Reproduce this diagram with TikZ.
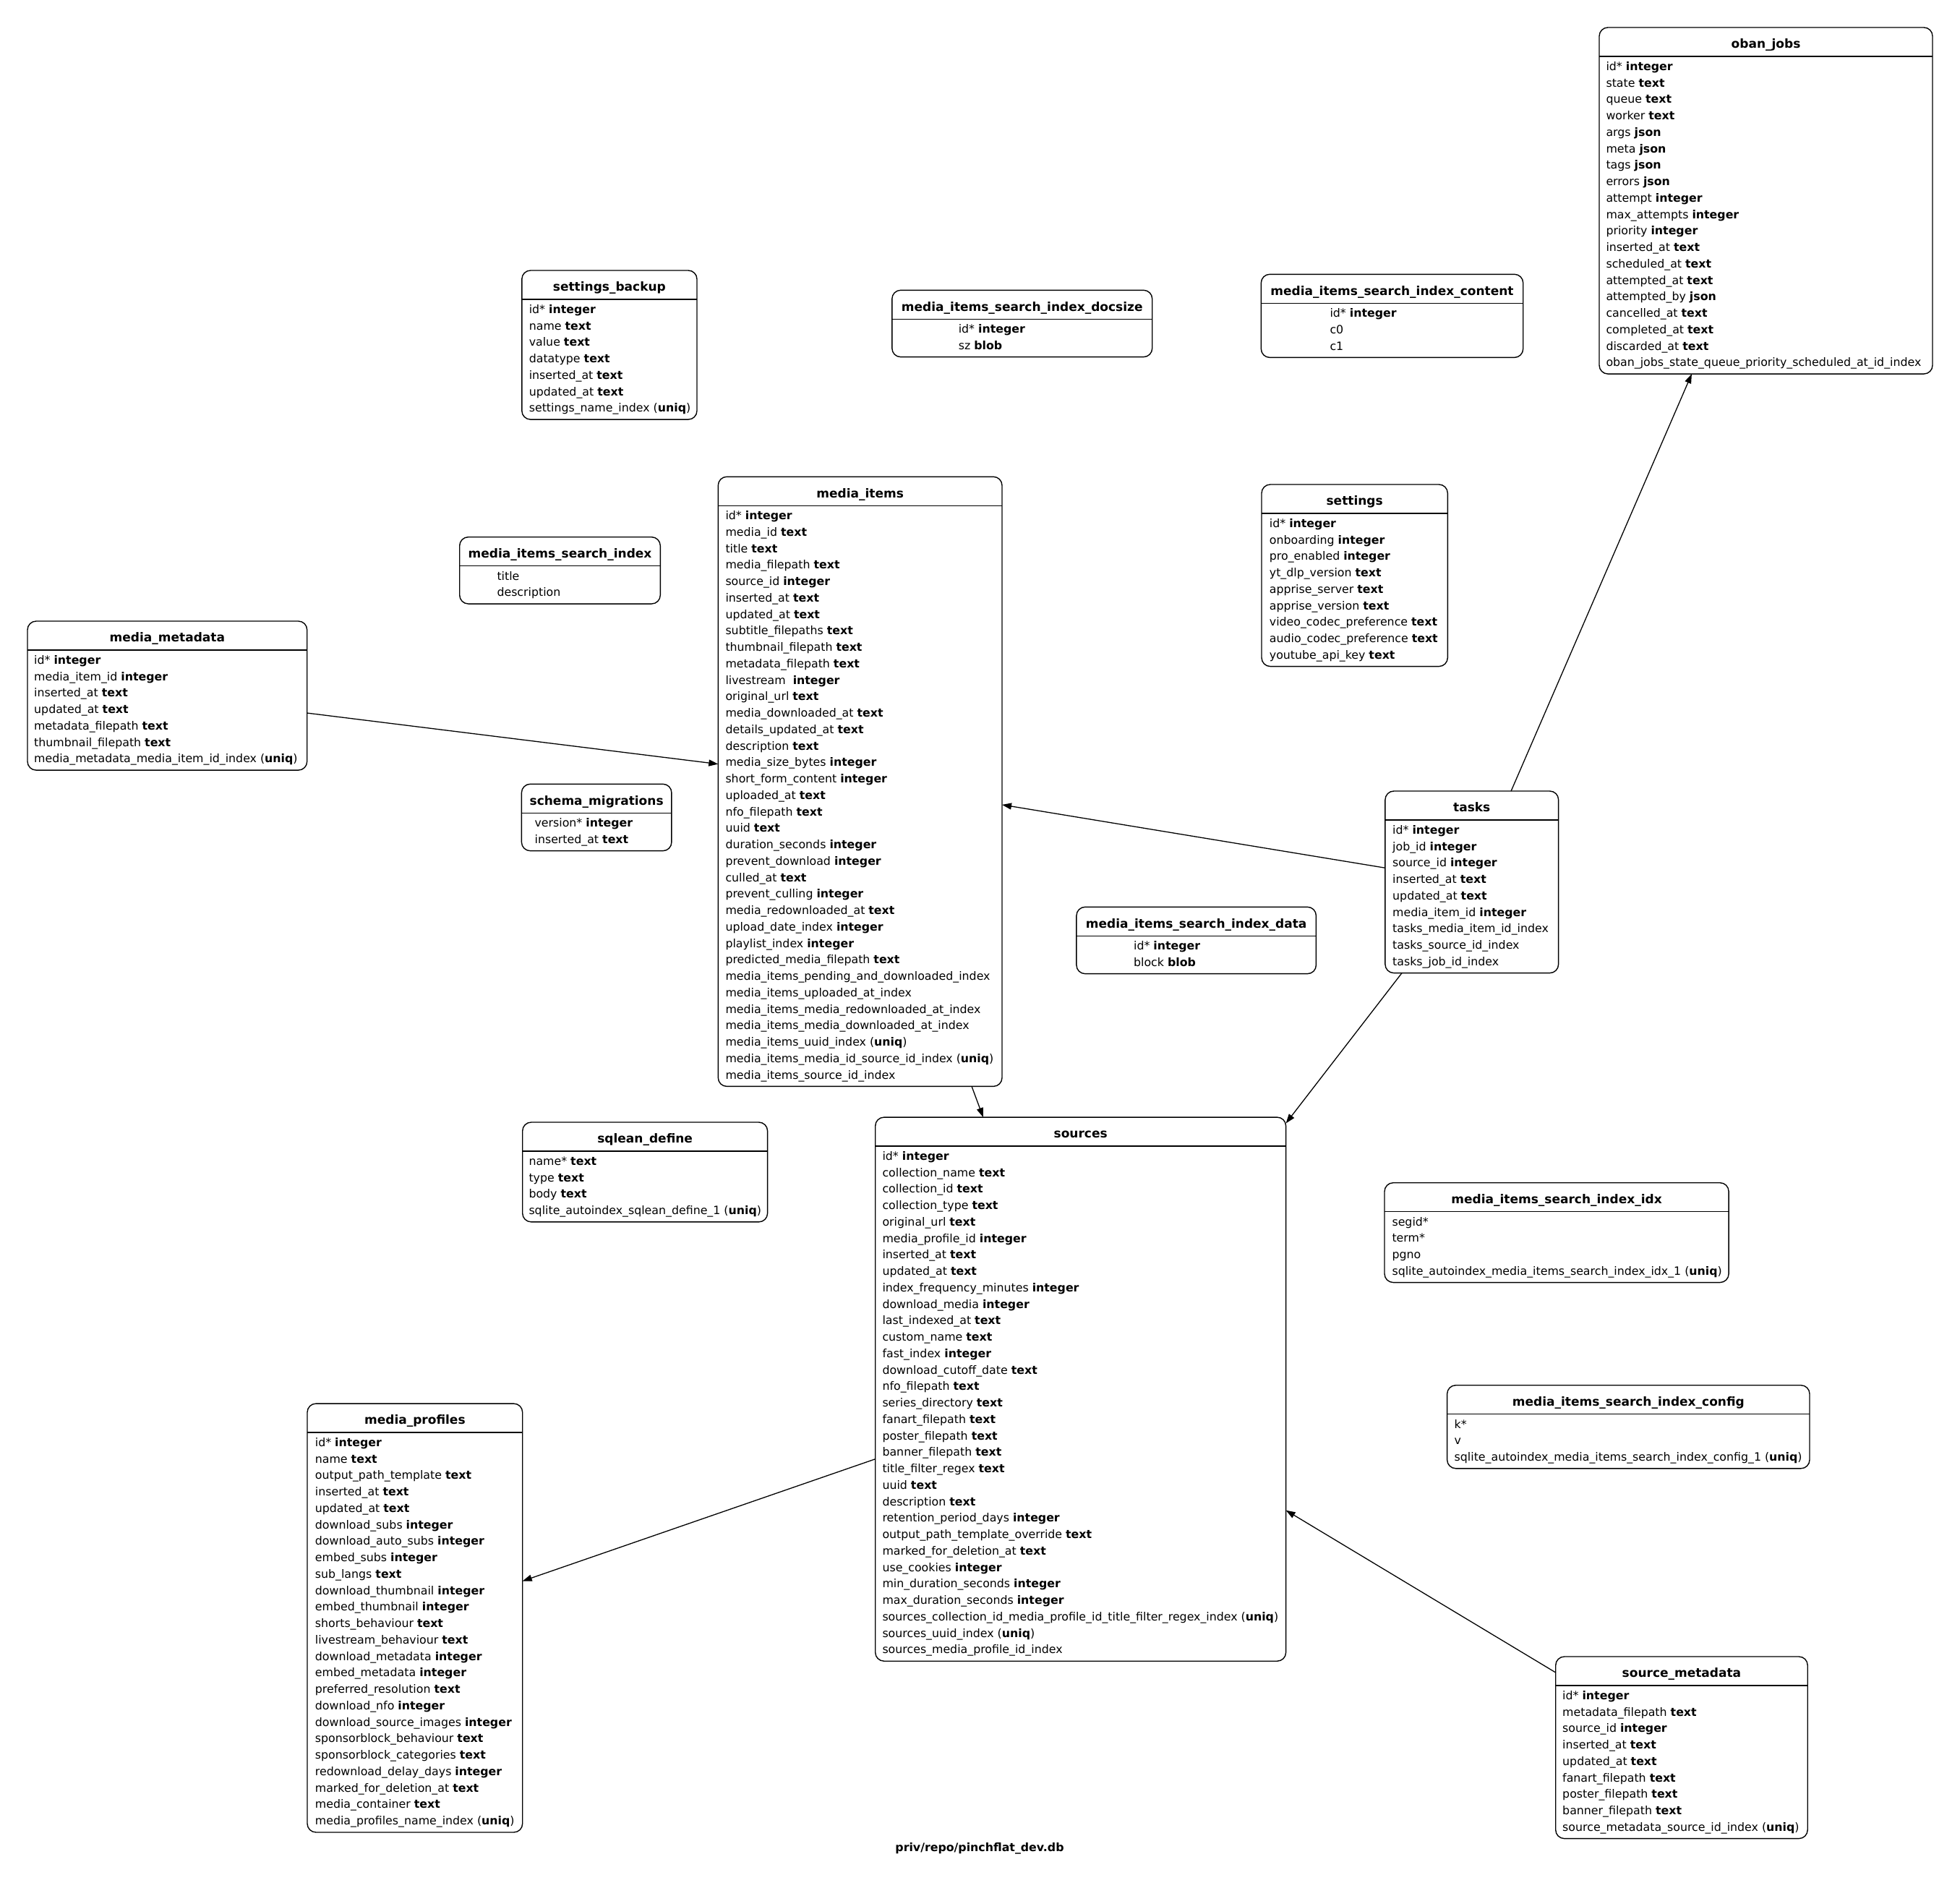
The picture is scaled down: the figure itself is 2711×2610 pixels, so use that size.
\documentclass[tikz,border=0pt]{standalone}
\usepackage{fontspec}
\setmainfont{DejaVu Sans}
\usetikzlibrary{arrows.meta}

\newcommand\tb[1]{\textbf{#1}}
% #1 name, #2 left, #3 top, #4 right, #5 rows, #6 title, #7 text left, #8 rows
\newcommand\dbtable[8]{%
  \pgfmathsetmacro\tbB{#3+69.6+(#5-1)*22.75}%
  \pgfmathsetmacro\tbCX{(#2+#4)/2}%
  \pgfmathsetmacro\tbCY{(#3+\tbB)/2}%
  \pgfmathsetmacro\tbW{#4-#2}%
  \pgfmathsetmacro\tbH{\tbB-#3}%
  \node[tblbox, minimum width=\tbW pt, minimum height=\tbH pt] (#1) at (\tbCX,\tbCY) {};
  \draw[tblline] (#2,#3+40) -- (#4,#3+40);
  \node[tbltitle, anchor=base] (#1-title) at (\tbCX,#3+28.7) {#6};
  \node[tblbody, anchor=base west] (#1-body) at (#7,#3+59.3) {\begin{tabular}[t]{@{}l@{}}#8\end{tabular}};
}

\begin{document}
\begin{tikzpicture}[x=1pt,y=-1pt,
  tblbox/.style={draw, line width=1.4pt, rounded corners=12pt, inner sep=0pt, outer sep=0pt},
  tblline/.style={line width=1.4pt},
  tbltitle/.style={inner sep=0pt, font=\fontsize{17}{20}\selectfont\bfseries},
  tblbody/.style={inner sep=0pt, font=\fontsize{15.8}{22.75}\selectfont},
  captionstyle/.style={inner sep=0pt, font=\fontsize{15.8}{19}\selectfont\bfseries},
  conn/.style={line width=1.3pt, -{Triangle[length=13pt,width=9pt]}}]

\path[fill=white] (0,0) rectangle (2711,2610);

\dbtable{oban}{2212}{38}{2673}{19}{oban\_jobs}{2221.3}{%
id* \tb{integer}\\
state \tb{text}\\
queue \tb{text}\\
worker \tb{text}\\
args \tb{json}\\
meta \tb{json}\\
tags \tb{json}\\
errors \tb{json}\\
attempt \tb{integer}\\
max\_attempts \tb{integer}\\
priority \tb{integer}\\
inserted\_at \tb{text}\\
scheduled\_at \tb{text}\\
attempted\_at \tb{text}\\
attempted\_by \tb{json}\\
cancelled\_at \tb{text}\\
completed\_at \tb{text}\\
discarded\_at \tb{text}\\
oban\_jobs\_state\_queue\_priority\_scheduled\_at\_id\_index}

\dbtable{setbackup}{721.8}{374}{964}{7}{settings\_backup}{731.6}{%
id* \tb{integer}\\
name \tb{text}\\
value \tb{text}\\
datatype \tb{text}\\
inserted\_at \tb{text}\\
updated\_at \tb{text}\\
settings\_name\_index (\tb{uniq})}

\dbtable{docsize}{1233.8}{401.3}{1593.7}{2}{media\_items\_search\_index\_docsize}{1325.6}{%
id* \tb{integer}\\
sz \tb{blob}}

\dbtable{content}{1744.3}{379.3}{2106.7}{3}{media\_items\_search\_index\_content}{1839.3}{%
id* \tb{integer}\\
c0\\
c1}

\dbtable{mediaitems}{993.3}{659.3}{1386}{35}{media\_items}{1003.3}{%
id* \tb{integer}\\
media\_id \tb{text}\\
title \tb{text}\\
media\_filepath \tb{text}\\
source\_id \tb{integer}\\
inserted\_at \tb{text}\\
updated\_at \tb{text}\\
subtitle\_filepaths \tb{text}\\
thumbnail\_filepath \tb{text}\\
metadata\_filepath \tb{text}\\
livestream\ \ \tb{integer}\\
original\_url \tb{text}\\
media\_downloaded\_at \tb{text}\\
details\_updated\_at \tb{text}\\
description \tb{text}\\
media\_size\_bytes \tb{integer}\\
short\_form\_content \tb{integer}\\
uploaded\_at \tb{text}\\
nfo\_filepath \tb{text}\\
uuid \tb{text}\\
duration\_seconds \tb{integer}\\
prevent\_download \tb{integer}\\
culled\_at \tb{text}\\
prevent\_culling \tb{integer}\\
media\_redownloaded\_at \tb{text}\\
upload\_date\_index \tb{integer}\\
playlist\_index \tb{integer}\\
predicted\_media\_filepath \tb{text}\\
media\_items\_pending\_and\_downloaded\_index\\
media\_items\_uploaded\_at\_index\\
media\_items\_media\_redownloaded\_at\_index\\
media\_items\_media\_downloaded\_at\_index\\
media\_items\_uuid\_index (\tb{uniq})\\
media\_items\_media\_id\_source\_id\_index (\tb{uniq})\\
media\_items\_source\_id\_index}

\dbtable{searchindex}{635.7}{742.7}{913.3}{2}{media\_items\_search\_index}{687.3}{%
title\\
description}

\dbtable{mediameta}{38}{859}{424.7}{7}{media\_metadata}{47}{%
id* \tb{integer}\\
media\_item\_id \tb{integer}\\
inserted\_at \tb{text}\\
updated\_at \tb{text}\\
metadata\_filepath \tb{text}\\
thumbnail\_filepath \tb{text}\\
media\_metadata\_media\_item\_id\_index (\tb{uniq})}

\dbtable{schemamig}{721.4}{1084.3}{928.9}{2}{schema\_migrations}{739.4}{%
version* \tb{integer}\\
inserted\_at \tb{text}}

\dbtable{settings}{1745}{670}{2002.3}{9}{settings}{1755.7}{%
id* \tb{integer}\\
onboarding \tb{integer}\\
pro\_enabled \tb{integer}\\
yt\_dlp\_version \tb{text}\\
apprise\_server \tb{text}\\
apprise\_version \tb{text}\\
video\_codec\_preference \tb{text}\\
audio\_codec\_preference \tb{text}\\
youtube\_api\_key \tb{text}}

\dbtable{tasks}{1915.9}{1094}{2155.6}{9}{tasks}{1926}{%
id* \tb{integer}\\
job\_id \tb{integer}\\
source\_id \tb{integer}\\
inserted\_at \tb{text}\\
updated\_at \tb{text}\\
media\_item\_id \tb{integer}\\
tasks\_media\_item\_id\_index\\
tasks\_source\_id\_index\\
tasks\_job\_id\_index}

\dbtable{sidata}{1488.9}{1254.3}{1820.4}{2}{media\_items\_search\_index\_data}{1567.9}{%
id* \tb{integer}\\
block \tb{blob}}

\dbtable{sqlean}{722.7}{1552}{1061.6}{4}{sqlean\_define}{731.3}{%
name* \tb{text}\\
type \tb{text}\\
body \tb{text}\\
sqlite\_autoindex\_sqlean\_define\_1 (\tb{uniq})}

\dbtable{sources}{1210.7}{1545.1}{1778.6}{31}{sources}{1220.3}{%
id* \tb{integer}\\
collection\_name \tb{text}\\
collection\_id \tb{text}\\
collection\_type \tb{text}\\
original\_url \tb{text}\\
media\_profile\_id \tb{integer}\\
inserted\_at \tb{text}\\
updated\_at \tb{text}\\
index\_frequency\_minutes \tb{integer}\\
download\_media \tb{integer}\\
last\_indexed\_at \tb{text}\\
custom\_name \tb{text}\\
fast\_index \tb{integer}\\
download\_cutoff\_date \tb{text}\\
nfo\_filepath \tb{text}\\
series\_directory \tb{text}\\
fanart\_filepath \tb{text}\\
poster\_filepath \tb{text}\\
banner\_filepath \tb{text}\\
title\_filter\_regex \tb{text}\\
uuid \tb{text}\\
description \tb{text}\\
retention\_period\_days \tb{integer}\\
output\_path\_template\_override \tb{text}\\
marked\_for\_deletion\_at \tb{text}\\
use\_cookies \tb{integer}\\
min\_duration\_seconds \tb{integer}\\
max\_duration\_seconds \tb{integer}\\
sources\_collection\_id\_media\_profile\_id\_title\_filter\_regex\_index (\tb{uniq})\\
sources\_uuid\_index (\tb{uniq})\\
sources\_media\_profile\_id\_index}

\dbtable{mediaprofiles}{425}{1941.1}{722.7}{24}{media\_profiles}{435.7}{%
id* \tb{integer}\\
name \tb{text}\\
output\_path\_template \tb{text}\\
inserted\_at \tb{text}\\
updated\_at \tb{text}\\
download\_subs \tb{integer}\\
download\_auto\_subs \tb{integer}\\
embed\_subs \tb{integer}\\
sub\_langs \tb{text}\\
download\_thumbnail \tb{integer}\\
embed\_thumbnail \tb{integer}\\
shorts\_behaviour \tb{text}\\
livestream\_behaviour \tb{text}\\
download\_metadata \tb{integer}\\
embed\_metadata \tb{integer}\\
preferred\_resolution \tb{text}\\
download\_nfo \tb{integer}\\
download\_source\_images \tb{integer}\\
sponsorblock\_behaviour \tb{text}\\
sponsorblock\_categories \tb{text}\\
redownload\_delay\_days \tb{integer}\\
marked\_for\_deletion\_at \tb{text}\\
media\_container \tb{text}\\
media\_profiles\_name\_index (\tb{uniq})}

\dbtable{siidx}{1915}{1635.7}{2391.1}{4}{media\_items\_search\_index\_idx}{1925.3}{%
segid*\\
term*\\
pgno\\
sqlite\_autoindex\_media\_items\_search\_index\_idx\_1 (\tb{uniq})}

\dbtable{siconfig}{2001.6}{1915.7}{2503}{3}{media\_items\_search\_index\_config}{2011.5}{%
k*\\
v\\
sqlite\_autoindex\_media\_items\_search\_index\_config\_1 (\tb{uniq})}

\dbtable{sourcemeta}{2151.7}{2291}{2500.2}{9}{source\_metadata}{2161}{%
id* \tb{integer}\\
metadata\_filepath \tb{text}\\
source\_id \tb{integer}\\
inserted\_at \tb{text}\\
updated\_at \tb{text}\\
fanart\_filepath \tb{text}\\
poster\_filepath \tb{text}\\
banner\_filepath \tb{text}\\
source\_metadata\_source\_id\_index (\tb{uniq})}

\node[captionstyle, anchor=base] (caption) at (1355,2560) {priv/repo/pinchflat\_dev.db};

\draw[conn] (mediameta) -- (mediaitems);
\draw[conn] (tasks) -- (mediaitems);
\draw[conn] (tasks) -- (oban);
\draw[conn] (tasks) -- (sources);
\draw[conn] (mediaitems) -- (sources);
\draw[conn] (sources) -- (mediaprofiles);
\draw[conn] (sourcemeta) -- (sources);

\end{tikzpicture}
\end{document}
